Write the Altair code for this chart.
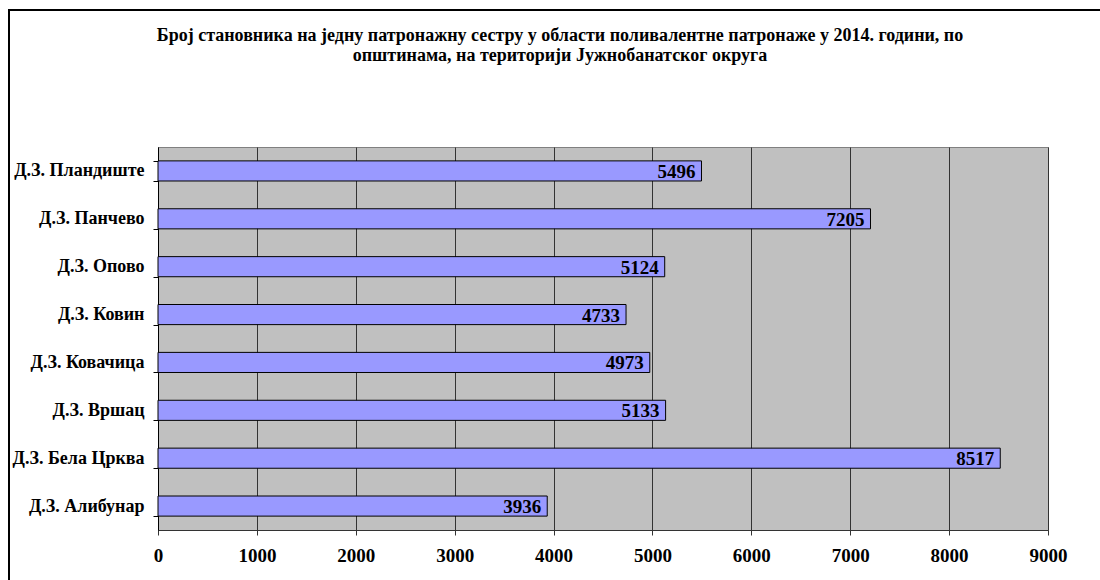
import altair as alt
import pandas as pd

# Health centres (top to bottom) and residents per community nurse, 2014
centres = [
    "Д.З. Пландиште",
    "Д.З. Панчево",
    "Д.З. Опово",
    "Д.З. Ковин",
    "Д.З. Ковачица",
    "Д.З. Вршац",
    "Д.З. Бела Црква",
    "Д.З. Алибунар",
]
residents = [5496, 7205, 5124, 4733, 4973, 5133, 8517, 3936]
x_ticks = [0, 1000, 2000, 3000, 4000, 5000, 6000, 7000, 8000, 9000]

title_lines = [
    "Број становника на једну патронажну сестру у области поливалентне патронаже у 2014. години, по",
    "општинама, на територији Јужнобанатског округа",
]

df = pd.DataFrame({"centre": centres, "residents": residents})

FONT = "Liberation Serif"
W, H = 890, 383
PAD_L, PAD_T = 158, 147

y_enc = alt.Y(
    "centre:N",
    sort=None,
    title=None,
    scale=alt.Scale(paddingInner=0.58, paddingOuter=0.29),
    axis=alt.Axis(
        tickBand="extent",
        tickSize=5,
        tickColor="#000000",
        domainColor="#000000",
        labelFont=FONT,
        labelFontSize=18,
        labelFontWeight="bold",
        labelColor="#000000",
        labelPadding=9,
        labelLimit=200,
        grid=False,
    ),
)

x_enc = alt.X(
    "residents:Q",
    title=None,
    scale=alt.Scale(domain=[0, 9000], nice=False),
    axis=alt.Axis(
        values=x_ticks,
        format="d",
        tickSize=5,
        tickColor="#333333",
        domainColor="#333333",
        grid=True,
        gridColor="#333333",
        gridWidth=1,
        gridOpacity=1,
        labelFont=FONT,
        labelFontSize=19,
        labelFontWeight="bold",
        labelColor="#000000",
        labelPadding=11,
        labelFlush=False,
    ),
)

bars = alt.Chart(df).mark_bar(
    fill="#9999FF", stroke="#000000", strokeWidth=1
).encode(x=x_enc, y=y_enc)

values = alt.Chart(df).mark_text(
    align="right", baseline="middle", dx=-6, dy=1,
    font=FONT, fontSize=19, fontWeight="bold", color="#000000",
).encode(x="residents:Q", y=alt.Y("centre:N", sort=None), text="residents:Q")

# Outer frame of the chart sheet
frame = alt.Chart(df).mark_rect(
    fill=None, stroke="#000000", strokeWidth=1.5, clip=False
).encode(
    x=alt.value(9 - PAD_L),
    x2=alt.value(1100 - PAD_L + 10),
    y=alt.value(10 - PAD_T),
    y2=alt.value(580 - PAD_T + 10),
)

chart = (
    alt.layer(frame, bars, values)
    .properties(
        width=W,
        height=H,
        padding={"left": PAD_L, "top": PAD_T, "right": 1100 - PAD_L - W, "bottom": 580 - PAD_T - H},
        autosize=alt.AutoSizeParams(type="none"),
        background="#FFFFFF",
        title=alt.TitleParams(
            text=title_lines,
            anchor="middle",
            dx=-43,
            offset=-56,
            font=FONT,
            fontSize=18,
            fontWeight="bold",
            lineHeight=20,
            color="#000000",
        ),
    )
    .configure_view(fill="#C0C0C0", stroke="#808080", strokeWidth=1)
)

chart.save("out.html", embed_options={"renderer": "svg", "actions": False})
